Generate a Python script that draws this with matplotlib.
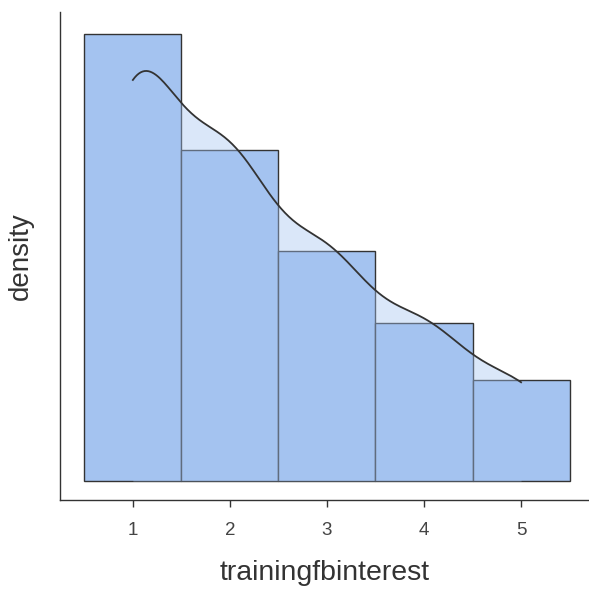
import matplotlib
matplotlib.use("Agg")
import matplotlib.pyplot as plt
import seaborn as sns
import numpy as np

categories = [1, 2, 3, 4, 5]
bar_density = [0.3528, 0.2612, 0.1815, 0.1247, 0.0797]
tick_labels = ["1", "2", "3", "4", "5"]
xlabel = "trainingfbinterest"
ylabel = "density"

plt.rcParams['font.family'] = ['Liberation Sans', 'DejaVu Sans']
fig = plt.figure(figsize=(5.89, 5.89), dpi=100)
ax = fig.add_axes([0.102, 0.151, 0.898, 0.829])

bar_color = '#a4c3f0'
ax.bar(categories, bar_density, width=1.0, color=bar_color, edgecolor='#333333',
       linewidth=1.0, zorder=2)

# density estimate of the same distribution (weighted KDE, cut at data range)
bw = 0.327
sns.kdeplot(x=categories, weights=bar_density, bw_method=bw, cut=0, fill=True,
            color=bar_color, alpha=0.4, linewidth=0, ax=ax, zorder=3)
sns.kdeplot(x=categories, weights=bar_density, bw_method=bw, cut=0, fill=False,
            color='#333333', linewidth=1.3, ax=ax, zorder=4)

ax.set_xlim(0.25, 5.70)
ax.set_ylim(-0.015, 0.370)
ax.set_xticks(categories)
ax.set_xticklabels(tick_labels)
ax.set_yticks([])
for s in ['top', 'right']:
    ax.spines[s].set_visible(False)
for s in ['left', 'bottom']:
    ax.spines[s].set_color('#333333')
    ax.spines[s].set_linewidth(1.0)
ax.tick_params(axis='x', colors='#333333', labelcolor='#444444', labelsize=13.5,
               length=5, width=1, pad=11)
ax.set_xlabel(xlabel, fontsize=20.5, color='#333333', labelpad=15)
ax.set_ylabel(ylabel, fontsize=20, color='#333333', labelpad=19)

fig.savefig('out.png', dpi=100)
